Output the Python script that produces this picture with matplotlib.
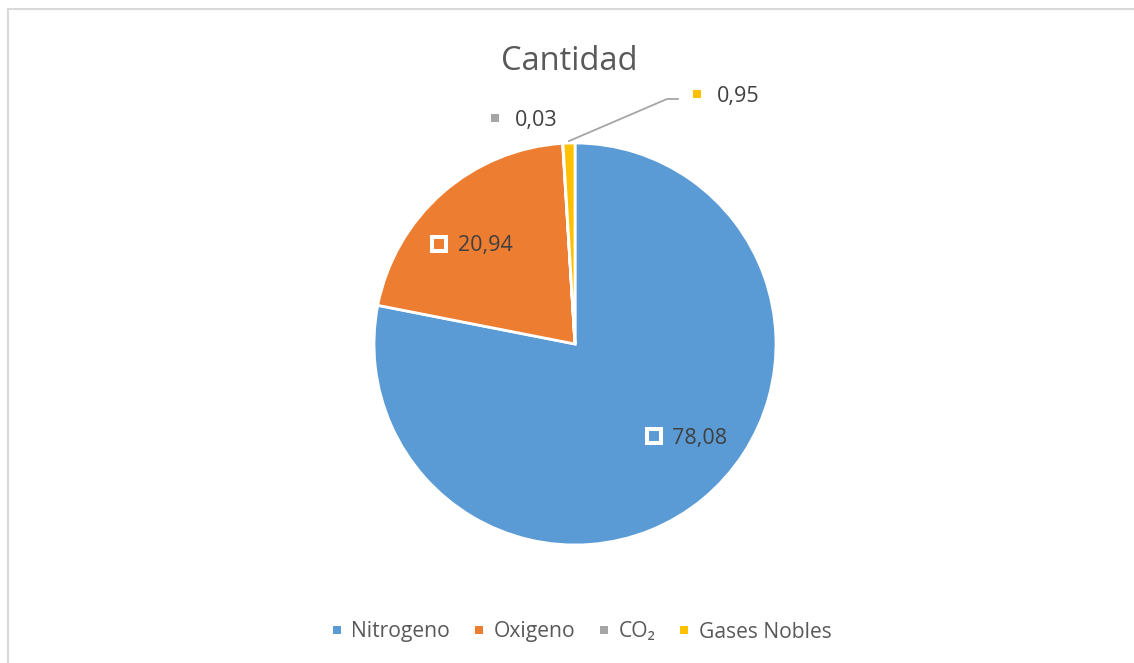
import matplotlib
matplotlib.use("Agg")
import matplotlib.pyplot as plt
from matplotlib.lines import Line2D
from matplotlib.patches import Rectangle
import numpy as np

plt.rcParams['font.family'] = ['Open Sans', 'DejaVu Sans']

title = "Cantidad"
categories = ["Nitrogeno", "Oxigeno", "CO₂", "Gases Nobles"]
values = [78.08, 20.94, 0.03, 0.95]
value_labels = ["78,08", "20,94", "0,03", "0,95"]
colors = ["#5B9BD5", "#ED7D31", "#A5A5A5", "#FFC000"]

W, H = 1134, 663
fig = plt.figure(figsize=(W / 100, H / 100), dpi=100)

# chart-area border (top & left visible)
fig.add_artist(Rectangle((7.5 / W, -0.1), 1.2, 1 - 9.5 / H + 0.1, transform=fig.transFigure,
                         fill=False, edgecolor="#D9D9D9", linewidth=1.5))

R = 201.0
cx, cy = 575.0, 663 - 344.0
ax = fig.add_axes([(cx - 2.5 * R) / W, (cy - 1.5 * R) / H, 5 * R / W, 3 * R / H])
ax.axis("off")

wedges, _ = ax.pie(values, colors=colors, startangle=90, counterclock=False, radius=1.0,
                   wedgeprops=dict(edgecolor="white", linewidth=2.0))
ax.set_aspect("auto")
ax.set_xlim(-2.5, 2.5)
ax.set_ylim(-1.5, 1.5)

# data label marker positions (data units)
label_pos = [(0.391, -0.458), (-0.678, 0.500), (-0.398, 1.122), (0.607, 1.246)]
inside = [True, True, False, False]
text_off = [13.5, 14.0, 14.0, 14.0]
for (x, y), lab, col, ins, off in zip(label_pos, value_labels, colors, inside, text_off):
    if ins:
        ax.plot(x, y, marker="s", markersize=9.4, markerfacecolor=col, markeredgecolor="white",
                markeredgewidth=2.9, zorder=5)
    else:
        ax.plot(x, y, marker="s", markersize=6.2, markerfacecolor=col, markeredgecolor=col,
                markeredgewidth=0, zorder=5)
    ax.annotate(lab, (x, y), xytext=(off, 0), textcoords="offset points", ha="left",
                va="center_baseline", fontsize=15.5, color="#404040")

# leader line for last slice
cum = np.cumsum([0] + values)
mid = (cum[-2] + cum[-1]) / 2 / sum(values) * 360
ang = np.deg2rad(90 - mid)
sx, sy = np.cos(ang) * 1.01, np.sin(ang) * 1.01
ax.plot([sx, 0.458, 0.512], [sy, 1.219, 1.219], color="#A5A5A5", linewidth=1.3, zorder=4)

fig.text(569 / W, 1 - 61 / H, title, ha="center", va="center", fontsize=23.5, color="#595959")

handles = [Line2D([], [], linestyle="none", marker="s", markersize=5.8, markerfacecolor=c,
                  markeredgecolor=c, markeredgewidth=0) for c in colors]
fig.legend(handles, categories, loc="center", bbox_to_anchor=(581 / W, 1 - 632 / H), ncol=4,
           frameon=False, fontsize=15.2, labelcolor="#595959", handlelength=0.6, handletextpad=0.38,
           columnspacing=1.07)

fig.savefig("out.png", dpi=100, facecolor="white")
